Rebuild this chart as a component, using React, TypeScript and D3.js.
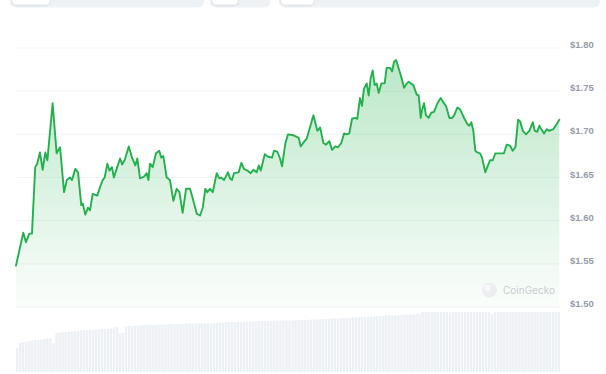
import React from "react";
import * as d3 from "d3";

// Time in days since start of the 30-day window
const days = [
  0.0, 0.22, 0.4, 0.55, 0.73, 0.88, 1.06, 1.17, 1.32, 1.47, 1.62, 1.73, 2.02, 2.24, 2.43, 2.65, 2.8, 2.98, 3.09, 3.27,
  3.42, 3.6, 3.68, 3.82, 3.97, 4.08, 4.23, 4.48, 4.67, 4.78, 4.89, 5.04, 5.15, 5.29, 5.4, 5.55, 5.74, 5.85, 5.99, 6.22,
  6.4, 6.58, 6.69, 6.84, 7.06, 7.21, 7.3, 7.39, 7.54, 7.72, 7.9, 8.01, 8.12, 8.31, 8.49, 8.68, 8.86, 9.01, 9.19, 9.38,
  9.6, 9.78, 9.97, 10.15, 10.3, 10.44, 10.55, 10.7, 10.85, 11.07, 11.21, 11.32, 11.47, 11.69, 11.8, 11.91, 12.02, 12.28, 12.43, 12.57,
  12.76, 12.94, 13.09, 13.27, 13.39, 13.5, 13.72, 13.9, 14.12, 14.23, 14.41, 14.56, 14.67, 14.85, 15.0, 15.29, 15.59, 15.7, 15.84, 16.03,
  16.21, 16.4, 16.62, 16.77, 16.95, 17.1, 17.28, 17.43, 17.61, 17.76, 17.94, 18.09, 18.24, 18.38, 18.53, 18.71, 18.82, 18.97, 19.08, 19.19,
  19.34, 19.45, 19.56, 19.67, 19.78, 19.89, 20.0, 20.15, 20.33, 20.44, 20.63, 20.74, 20.85, 20.96, 21.11, 21.25, 21.4, 21.55, 21.66, 21.77,
  21.91, 22.1, 22.21, 22.32, 22.39, 22.5, 22.61, 22.76, 22.9, 23.05, 23.24, 23.42, 23.57, 23.71, 23.9, 24.05, 24.16, 24.34, 24.49, 24.71,
  24.89, 25.0, 25.11, 25.22, 25.33, 25.44, 25.59, 25.7, 25.88, 25.99, 26.14, 26.29, 26.43, 26.69, 26.91, 27.06, 27.24, 27.39, 27.54, 27.69,
  27.8, 27.95, 28.13, 28.31, 28.5, 28.61, 28.75, 28.86, 28.97, 29.12, 29.27, 29.41, 29.63, 29.82, 29.96,
];

const prices = [
  1.548, 1.569, 1.586, 1.575, 1.585, 1.585, 1.662, 1.666, 1.679, 1.659, 1.679, 1.67, 1.736, 1.678, 1.685, 1.633, 1.647, 1.65, 1.647, 1.66,
  1.656, 1.618, 1.62, 1.607, 1.615, 1.612, 1.631, 1.629, 1.641, 1.647, 1.65, 1.666, 1.658, 1.662, 1.65, 1.66, 1.672, 1.665, 1.67, 1.686,
  1.673, 1.664, 1.672, 1.649, 1.651, 1.655, 1.647, 1.666, 1.662, 1.678, 1.681, 1.673, 1.675, 1.65, 1.647, 1.623, 1.637, 1.633, 1.609, 1.637,
  1.637, 1.623, 1.608, 1.606, 1.615, 1.637, 1.633, 1.637, 1.633, 1.655, 1.649, 1.65, 1.647, 1.656, 1.649, 1.647, 1.655, 1.656, 1.667, 1.66,
  1.658, 1.655, 1.659, 1.656, 1.664, 1.658, 1.677, 1.674, 1.673, 1.681, 1.68, 1.672, 1.663, 1.689, 1.7, 1.699, 1.696, 1.686, 1.69, 1.695,
  1.708, 1.722, 1.704, 1.708, 1.69, 1.688, 1.692, 1.682, 1.686, 1.685, 1.69, 1.701, 1.7, 1.701, 1.718, 1.719, 1.718, 1.742, 1.733, 1.753,
  1.759, 1.745, 1.765, 1.774, 1.757, 1.759, 1.748, 1.759, 1.759, 1.777, 1.777, 1.773, 1.784, 1.786, 1.776, 1.766, 1.754, 1.759, 1.761, 1.759,
  1.757, 1.746, 1.745, 1.719, 1.728, 1.736, 1.722, 1.719, 1.725, 1.726, 1.736, 1.742, 1.737, 1.733, 1.719, 1.719, 1.722, 1.731, 1.729, 1.719,
  1.712, 1.71, 1.714, 1.704, 1.681, 1.679, 1.678, 1.673, 1.656, 1.662, 1.67, 1.67, 1.678, 1.678, 1.678, 1.688, 1.687, 1.681, 1.685, 1.717,
  1.715, 1.704, 1.7, 1.704, 1.714, 1.704, 1.703, 1.71, 1.706, 1.701, 1.706, 1.704, 1.706, 1.712, 1.717,
];

// Trading volume bars (millions of USD)
const volumes = [
  24, 29, 30, 30.5, 31, 31.5, 32, 32, 32.5, 33,
  33.5, 34, 29, 39, 39.5, 40, 40, 40.5, 40.5, 41,
  41, 41.5, 41.5, 42, 42, 42, 42.5, 42.5, 43, 43,
  43.5, 43.5, 44.5, 45, 39, 39.5, 45.5, 46, 46, 46.5,
  46.5, 46.5, 47, 47, 47, 47, 47.5, 47.5, 47.5, 47.5,
  48, 48, 47.5, 48, 48, 48, 48.5, 48.5, 48, 48.5,
  48.5, 49, 49, 49, 48.5, 49, 49.5, 49.5, 49.5, 49.5,
  50, 50, 49.5, 50, 50, 50, 50.5, 50.5, 50.5, 50.5,
  51, 51, 51, 50.5, 51, 51.5, 51.5, 51.5, 51.5, 51.5,
  51.5, 51.5, 52, 52, 52, 52, 52, 52.5, 52.5, 52.5,
  53, 53, 53, 53, 53.5, 53.5, 53.5, 54, 54, 54,
  54.5, 54.5, 54.5, 55, 55, 55, 55.5, 55.5, 55.5, 56,
  56, 56, 56.5, 56.5, 56.5, 57, 57, 57, 57.5, 57.5,
  57.5, 57.5, 58, 58, 60, 60, 60, 60, 60, 60,
  60, 60, 60, 59.5, 60, 60, 60, 60, 60, 60,
  60, 60, 60, 60, 60, 60, 60, 58, 60, 60,
  60, 60, 60, 60, 60, 60, 60, 60, 60, 60,
  60, 60, 60, 60, 60, 60, 60, 60, 60, 60,
];

const yTicks = [1.5, 1.55, 1.6, 1.65, 1.7, 1.75, 1.8];
const tickLabels = ["$1.50", "$1.55", "$1.60", "$1.65", "$1.70", "$1.75", "$1.80"];

const W = 606;
const H = 374;

export default function App() {
  const x = d3.scaleLinear().domain([0, 30]).range([16, 560]);
  const y = d3.scaleLinear().domain([1.5, 1.8]).range([307, 48]);
  const vy = d3.scaleLinear().domain([0, 72]).range([372, 300]);
  const vx = d3
    .scaleBand<number>()
    .domain(volumes.map((_, i) => i))
    .range([16, 560])
    .paddingInner(0.2);

  const pts = days.map((d, i) => [d, prices[i]] as [number, number]);
  const line = d3
    .line<[number, number]>()
    .x((d) => x(d[0]))
    .y((d) => y(d[1]));
  const area = d3
    .area<[number, number]>()
    .x((d) => x(d[0]))
    .y0(y(1.5))
    .y1((d) => y(d[1]));

  return (
    <div style={{ position: "fixed", left: 0, top: 0, width: W, height: H, background: "#fff" }}>
      <svg width={W} height={H} style={{ display: "block", fontFamily: "Inter, 'Noto Sans', sans-serif" }}>
        <defs>
          <linearGradient id="areaGrad" x1="0" y1={y(1.8)} x2="0" y2={y(1.5)} gradientUnits="userSpaceOnUse">
            <stop offset="0%" stopColor="#22b14c" stopOpacity={0.32} />
            <stop offset="100%" stopColor="#22b14c" stopOpacity={0.02} />
          </linearGradient>
          <filter id="pillShadow" x="-20%" y="-50%" width="140%" height="200%">
            <feDropShadow dx="0" dy="0.5" stdDeviation="0.8" floodColor="#000" floodOpacity="0.15" />
          </filter>
        </defs>

        {/* top button bars (cut off) */}
        <rect x={10} y={-12} width={194} height={19.5} rx={6} fill="#eff2f5" />
        <rect x={12} y={-12} width={38} height={16.5} rx={4.5} fill="#fff" filter="url(#pillShadow)" />
        <rect x={210} y={-12} width={60} height={19.5} rx={6} fill="#eff2f5" />
        <rect x={212} y={-12} width={26} height={16.5} rx={4.5} fill="#fff" filter="url(#pillShadow)" />
        <rect x={279} y={-12} width={321} height={19.5} rx={6} fill="#eff2f5" />
        <rect x={281} y={-12} width={33} height={16.5} rx={4.5} fill="#fff" filter="url(#pillShadow)" />

        {/* gridlines */}
        {yTicks.map((t) => (
          <line key={t} x1={16} x2={560} y1={y(t)} y2={y(t)} stroke="#f2f3f5" strokeWidth={1} />
        ))}

        {/* volume bars */}
        {volumes.map((v, i) => (
          <rect
            key={i}
            x={vx(i)}
            y={vy(v)}
            width={vx.bandwidth()}
            height={vy(0) - vy(v)}
            fill="#edf0f4"
          />
        ))}

        {/* area + line */}
        <path d={area(pts) || ""} fill="url(#areaGrad)" />
        <path d={line(pts) || ""} fill="none" stroke="#22b14c" strokeWidth={1.9} strokeLinejoin="round" strokeLinecap="round" />

        {/* watermark */}
        <g>
          <circle cx={489.5} cy={290} r={7.5} fill="#eceef1" />
          <circle cx={487.5} cy={288} r={3.2} fill="#f7f8f9" />
          <text x={503} y={293.5} fontSize={10} fill="#c7cbd1">
            CoinGecko
          </text>
        </g>

        {/* y labels */}
        {yTicks.map((t, i) => (
          <text
            key={t}
            x={570}
            y={y(t)}
            fontSize={9.5}
            fontWeight={700}
            fill="#959cab"
            style={{ fontFamily: "'Liberation Sans', Arial, sans-serif" }}
          >
            {tickLabels[i]}
          </text>
        ))}
      </svg>
    </div>
  );
}
